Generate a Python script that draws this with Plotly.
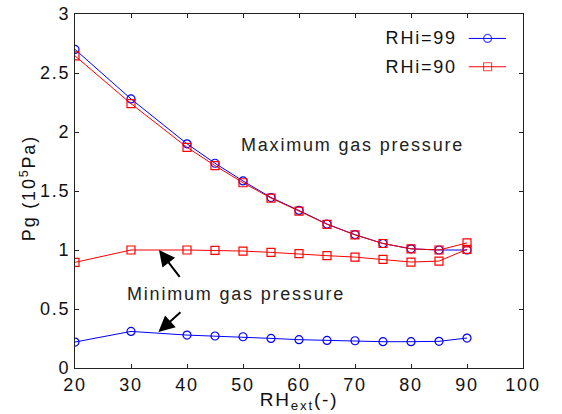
import plotly.graph_objects as go

# External relative humidity (%)
rh_ext = [20, 30, 40, 45, 50, 55, 60, 65, 70, 75, 80, 85, 90]

# Gas pressure (10^5 Pa), internal RH = 99
rhi99_max = [2.70, 2.28, 1.90, 1.735, 1.585, 1.445, 1.335, 1.22, 1.13, 1.055, 1.01, 1.0, 1.0]
rhi99_min = [0.22, 0.31, 0.279, 0.271, 0.265, 0.251, 0.24, 0.234, 0.231, 0.223, 0.223, 0.226, 0.254]

# Gas pressure (10^5 Pa), internal RH = 90
rhi90_max = [2.645, 2.24, 1.87, 1.715, 1.57, 1.44, 1.33, 1.218, 1.128, 1.055, 1.01, 1.0, 1.06]
rhi90_min = [0.895, 1.0, 1.0, 0.997, 0.991, 0.98, 0.969, 0.952, 0.94, 0.921, 0.898, 0.906, 1.006]

x_ticks = [20, 30, 40, 50, 60, 70, 80, 90, 100]
y_ticks = [0, 0.5, 1, 1.5, 2, 2.5, 3]

FONT = "Liberation Sans, Arial, sans-serif"
AXIS_COLOR = "#222222"
TEXT_COLOR = "#111111"

series = [
    dict(name="RHi=99", color="#0000ff", symbol="circle-open", size=8,
         curves=[rhi99_max, rhi99_min]),
    dict(name="RHi=90", color="#ff0000", symbol="square-open", size=8,
         curves=[rhi90_max, rhi90_min]),
]

fig = go.Figure()

for s in series:
    for ys in s["curves"]:
        fig.add_trace(go.Scatter(
            x=rh_ext, y=ys, mode="lines+markers", showlegend=False,
            line=dict(color=s["color"], width=1),
            marker=dict(symbol=s["symbol"], size=s["size"], color=s["color"],
                        line=dict(width=1.2, color=s["color"])),
            hoverinfo="skip",
        ))

# Legend block in the upper right corner: label on the left, line sample on the right
leg_top = 0.931
leg_step = 0.080
for i, s in enumerate(series):
    yr = leg_top - i * leg_step
    fig.add_trace(go.Scatter(
        x=[0.879, 0.921, 0.962], y=[yr, yr, yr], xaxis="x2", yaxis="y2",
        mode="lines+markers", showlegend=False, hoverinfo="skip",
        line=dict(color=s["color"], width=1),
        marker=dict(symbol=s["symbol"], size=[0, s["size"], 0], color=s["color"],
                    line=dict(width=1.2, color=s["color"])),
    ))
    fig.add_annotation(
        x=0.845, y=yr, xref="paper", yref="paper", text=s["name"],
        showarrow=False, xanchor="right", yanchor="middle",
        font=dict(family=FONT, size=18, color=TEXT_COLOR),
    )

# Text labels and arrows
fig.add_annotation(
    x=69.6, y=1.893, xref="x", yref="y", text="Maximum gas pressure", showarrow=False,
    font=dict(family=FONT, size=18, color="#222222"),
)
fig.add_annotation(
    x=48.8, y=0.631, xref="x", yref="y", text="Minimum gas pressure", showarrow=False,
    font=dict(family=FONT, size=18, color="#222222"),
)
for head, tail in [((35.0, 1.0), (38.9, 0.76)), ((34.9, 0.305), (39.1, 0.483))]:
    fig.add_annotation(
        x=head[0], y=head[1], ax=tail[0], ay=tail[1], xref="x", yref="y",
        axref="x", ayref="y", text="", showarrow=True,
        arrowhead=2, arrowsize=1.6, arrowwidth=2, arrowcolor="#000000", standoff=0,
    )

# Axis titles
fig.add_annotation(
    x=0.5, y=-0.092, xref="paper", yref="paper", text="RH<sub>ext</sub>(-)",
    showarrow=False, xanchor="center", yanchor="middle",
    font=dict(family=FONT, size=19, color=TEXT_COLOR),
)
fig.add_annotation(
    x=-0.105, y=0.508, xref="paper", yref="paper", text="Pg (10<sup>5</sup>Pa)",
    showarrow=False, textangle=-90, xanchor="center", yanchor="middle",
    font=dict(family=FONT, size=18, color=TEXT_COLOR),
)

axis_common = dict(
    showline=True, linecolor=AXIS_COLOR, linewidth=1, mirror="ticks",
    ticks="inside", ticklen=4, tickwidth=1, tickcolor=AXIS_COLOR,
    showgrid=False, zeroline=False, automargin=False,
    tickfont=dict(family=FONT, size=18, color=TEXT_COLOR),
)

fig.update_layout(
    width=562, height=414,
    margin=dict(l=75, r=39, t=14, b=46, pad=0),
    paper_bgcolor="white", plot_bgcolor="white",
    xaxis=dict(range=[20, 100], tickvals=x_ticks, **axis_common),
    yaxis=dict(range=[0, 3], tickvals=y_ticks, **axis_common),
    xaxis2=dict(range=[0, 1], overlaying="x", visible=False, fixedrange=True),
    yaxis2=dict(range=[0, 1], overlaying="y", visible=False, fixedrange=True),
    showlegend=False,
)

# Slightly loose letter spacing for all labels
spacing_js = """
document.querySelectorAll('.xtick text, .ytick text, .annotation-text').forEach(function (t) {
    t.style.letterSpacing = '1.8px';
});
"""

fig.write_html("out.html", config=dict(displayModeBar=False), post_script=spacing_js)
